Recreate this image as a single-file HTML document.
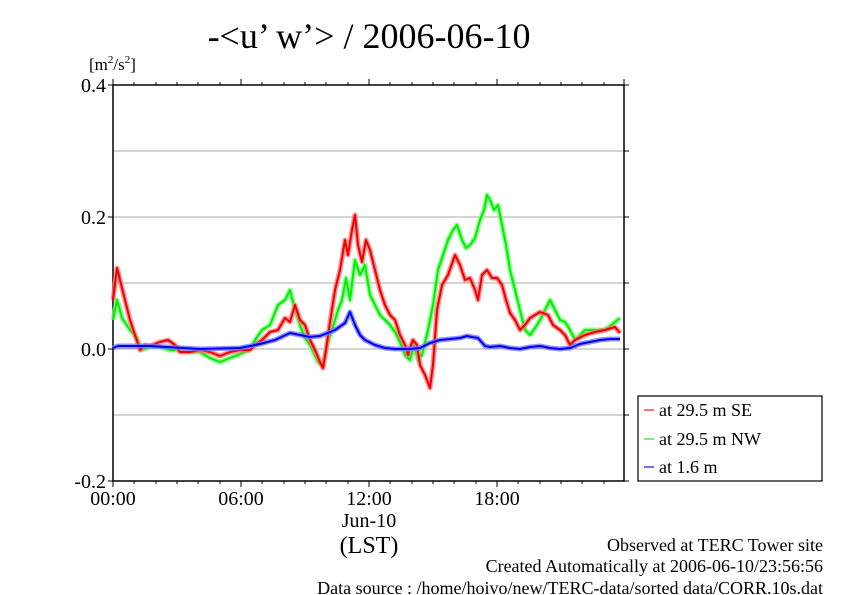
<!DOCTYPE html>
<html><head><meta charset="utf-8"><style>
html,body{margin:0;padding:0;background:#fff;}
svg{display:block;font-family:"Liberation Serif",serif;}
</style></head><body>
<svg width="842" height="595" viewBox="0 0 842 595" xmlns="http://www.w3.org/2000/svg">
<text x="369" y="48" font-size="36" text-anchor="middle">-&lt;u’ w’&gt; / 2006-06-10</text>
<text x="89" y="70" font-size="17">[m<tspan font-size="11" dy="-7">2</tspan><tspan dy="7">/s</tspan><tspan font-size="11" dy="-7">2</tspan><tspan dy="7">]</tspan></text>
<g stroke="#aaa" stroke-width="1">
<line x1="113" y1="151" x2="624" y2="151"/><line x1="113" y1="217" x2="624" y2="217"/>
<line x1="113" y1="283" x2="624" y2="283"/><line x1="113" y1="349" x2="624" y2="349"/>
<line x1="113" y1="415" x2="624" y2="415"/>
</g>
<g stroke="#000" stroke-width="1.5" fill="none">
<rect x="113" y="85" width="511" height="396"/>
</g>
<g stroke="#000" stroke-width="1">
<path d="M113,85v-6M241,85v-6M369,85v-6M497,85v-6M624,85v-6M113,481v6M241,481v6M369,481v6M497,481v6"/>
<path d="M134,85v-3M156,85v-3M177,85v-3M198,85v-3M220,85v-3M262,85v-3M284,85v-3M305,85v-3M326,85v-3M348,85v-3M390,85v-3M412,85v-3M433,85v-3M454,85v-3M476,85v-3M518,85v-3M540,85v-3M561,85v-3M582,85v-3M604,85v-3"/>
<path d="M134,481v3M156,481v3M177,481v3M198,481v3M220,481v3M262,481v3M284,481v3M305,481v3M326,481v3M348,481v3M390,481v3M412,481v3M433,481v3M454,481v3M476,481v3M518,481v3M540,481v3M561,481v3M582,481v3M604,481v3"/>
<path d="M113,85h-5M113,217h-5M113,349h-5M113,481h-5M624,85h5M624,151h5M624,217h5M624,283h5M624,349h5M624,415h5M624,481h5"/>
</g>
<g font-size="20" text-anchor="end">
<text x="106" y="92">0.4</text><text x="106" y="224">0.2</text><text x="106" y="356">0.0</text><text x="106" y="488">-0.2</text>
</g>
<g font-size="20" text-anchor="middle">
<text x="113" y="505">00:00</text><text x="241" y="505">06:00</text><text x="369" y="505">12:00</text><text x="497" y="505">18:00</text>
<text x="369" y="527">Jun-10</text>
<text x="369" y="553" font-size="24">(LST)</text>
</g>
<g fill="none" stroke-linejoin="round">
<polyline stroke="#7f7" stroke-width="5" opacity="0.8" points="113,320 117,300 122,318 130,330 137,338 142,350 150,347 160,347 170,350 180,350 190,352 200,352 210,358 220,362 230,358 240,354 250,350 255,340 262,330 270,325 278,305 285,300 290,290 295,310 300,325 305,338 310,345 318,362 323,366 327,345 332,330 338,310 342,300 346,278 350,300 355,260 360,275 365,265 370,295 375,305 380,315 385,320 390,325 395,332 400,342 405,355 410,360 414,345 418,360 422,355 428,330 433,305 438,270 443,255 448,240 453,230 457,225 462,240 466,248 470,245 475,238 480,220 484,210 487,195 490,200 494,210 498,205 502,225 506,245 510,270 515,290 520,310 525,330 530,335 535,328 540,320 545,310 550,300 555,310 560,320 565,322 570,330 575,340 580,335 585,330 595,330 605,330 615,322 620,318"/>
<polyline stroke="#0e0" stroke-width="2" points="113,320 117,300 122,318 130,330 137,338 142,350 150,347 160,347 170,350 180,350 190,352 200,352 210,358 220,362 230,358 240,354 250,350 255,340 262,330 270,325 278,305 285,300 290,290 295,310 300,325 305,338 310,345 318,362 323,366 327,345 332,330 338,310 342,300 346,278 350,300 355,260 360,275 365,265 370,295 375,305 380,315 385,320 390,325 395,332 400,342 405,355 410,360 414,345 418,360 422,355 428,330 433,305 438,270 443,255 448,240 453,230 457,225 462,240 466,248 470,245 475,238 480,220 484,210 487,195 490,200 494,210 498,205 502,225 506,245 510,270 515,290 520,310 525,330 530,335 535,328 540,320 545,310 550,300 555,310 560,320 565,322 570,330 575,340 580,335 585,330 595,330 605,330 615,322 620,318"/>
<polyline stroke="#f77" stroke-width="5" opacity="0.8" points="113,300 117,268 125,300 130,320 135,335 140,350 145,345 150,346 160,342 168,340 175,345 180,352 190,352 200,350 210,352 220,356 230,352 240,350 250,350 255,345 262,340 270,332 278,330 285,318 290,322 295,305 300,320 305,325 310,340 315,350 320,362 323,368 326,350 330,322 335,290 340,270 345,240 348,255 352,230 355,215 358,245 362,262 366,240 370,250 375,270 380,290 385,305 390,315 395,320 400,335 405,345 408,355 410,348 413,340 417,345 420,365 425,375 430,388 433,365 437,310 442,285 448,275 455,255 460,265 465,280 470,278 475,290 478,300 482,275 487,270 492,278 497,278 502,285 506,300 510,313 515,320 520,330 525,325 530,318 540,312 548,315 553,325 560,330 565,335 570,345 575,340 585,335 595,332 605,330 615,327 620,333"/>
<polyline stroke="#e00" stroke-width="2" points="113,300 117,268 125,300 130,320 135,335 140,350 145,345 150,346 160,342 168,340 175,345 180,352 190,352 200,350 210,352 220,356 230,352 240,350 250,350 255,345 262,340 270,332 278,330 285,318 290,322 295,305 300,320 305,325 310,340 315,350 320,362 323,368 326,350 330,322 335,290 340,270 345,240 348,255 352,230 355,215 358,245 362,262 366,240 370,250 375,270 380,290 385,305 390,315 395,320 400,335 405,345 408,355 410,348 413,340 417,345 420,365 425,375 430,388 433,365 437,310 442,285 448,275 455,255 460,265 465,280 470,278 475,290 478,300 482,275 487,270 492,278 497,278 502,285 506,300 510,313 515,320 520,330 525,325 530,318 540,312 548,315 553,325 560,330 565,335 570,345 575,340 585,335 595,332 605,330 615,327 620,333"/>
<polyline stroke="#77f" stroke-width="5" opacity="0.8" points="113,348 118,346 150,346 200,349 240,348 260,344 275,340 290,333 300,335 310,337 320,336 335,330 345,323 350,312 355,325 360,335 365,340 375,345 385,348 395,349 410,349 420,348 430,343 440,340 450,339 460,338 467,336 472,337 478,338 485,346 490,347 500,346 510,348 520,349 530,347 540,346 550,348 560,349 570,348 580,344 590,342 600,340 610,339 620,339"/>
<polyline stroke="#00e" stroke-width="2" points="113,348 118,346 150,346 200,349 240,348 260,344 275,340 290,333 300,335 310,337 320,336 335,330 345,323 350,312 355,325 360,335 365,340 375,345 385,348 395,349 410,349 420,348 430,343 440,340 450,339 460,338 467,336 472,337 478,338 485,346 490,347 500,346 510,348 520,349 530,347 540,346 550,348 560,349 570,348 580,344 590,342 600,340 610,339 620,339"/>
</g>
<rect x="638" y="396" width="184" height="85" fill="#fff" stroke="#000" stroke-width="1.2"/>
<g stroke-width="1.5">
<line x1="644" y1="410" x2="654" y2="410" stroke="#f44"/>
<line x1="644" y1="439" x2="654" y2="439" stroke="#4e4"/>
<line x1="644" y1="467" x2="654" y2="467" stroke="#44f"/>
</g>
<g font-size="18">
<text x="659" y="416">at 29.5 m SE</text>
<text x="659" y="445">at 29.5 m NW</text>
<text x="659" y="473">at 1.6 m</text>
</g>
<g font-size="18" text-anchor="end">
<text x="823" y="551">Observed at TERC Tower site</text>
<text x="823" y="572">Created Automatically at 2006-06-10/23:56:56</text>
<text x="823" y="594">Data source : /home/hoivo/new/TERC-data/sorted  data/CORR.10s.dat</text>
</g>
</svg>
</body></html>
